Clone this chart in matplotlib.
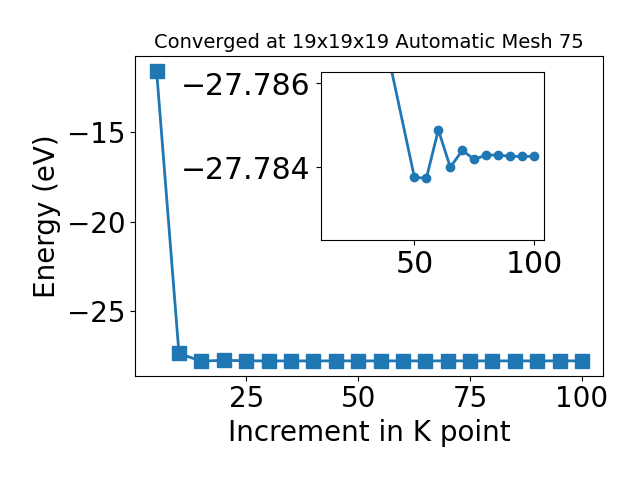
import matplotlib
matplotlib.use('Agg')
import matplotlib.pyplot as plt

# K point increments and total energies (eV)
kpoints = [5, 10, 15, 20, 25, 30, 35, 40, 45, 50, 55, 60, 65, 70, 75, 80, 85, 90, 95, 100]
energy = [-11.55, -27.37, -27.80, -27.75, -27.780, -27.785, -27.785, -27.7864, -27.785,
          -27.78376, -27.78374, -27.78489, -27.78400, -27.78440, -27.78419,
          -27.78429, -27.78429, -27.78426, -27.78426, -27.78426]

# zoomed-in points shown in the inset
inset_k = [40, 50, 55, 60, 65, 70, 75, 80, 85, 90, 95, 100]
inset_e = [-27.78642, -27.78376, -27.78374, -27.78489, -27.78400, -27.78440,
           -27.78419, -27.78429, -27.78429, -27.78426, -27.78426, -27.78426]

fig = plt.figure(figsize=(6.4, 4.8), dpi=100)
ax = fig.add_subplot(1, 1, 1)
fig.subplots_adjust(left=0.2114, right=0.9427, bottom=0.2173, top=0.8833)

# main convergence curve
ax.plot(kpoints, energy, marker='s', markersize=10, linewidth=2, color='C0')
ax.set_title('Converged at 19x19x19 Automatic Mesh 75', fontsize=14)
ax.set_xlabel('Increment in K point', fontsize=20)
ax.set_ylabel('Energy (eV)', fontsize=20)
ax.tick_params(labelsize=20)

# inset zoom
axins = fig.add_axes([0.501, 0.5, 0.3495, 0.3494])
axins.plot(inset_k, inset_e, marker='o', linewidth=2, color='C0')
axins.set_xlim(10.8, 104.3)
axins.set_ylim(-27.78227, -27.78626)
axins.set_xticks([50, 100])
axins.set_yticks([-27.786, -27.784])
axins.ticklabel_format(useOffset=False, axis='y')
axins.tick_params(labelsize=21.5)

fig.savefig('out.png', dpi=100)
